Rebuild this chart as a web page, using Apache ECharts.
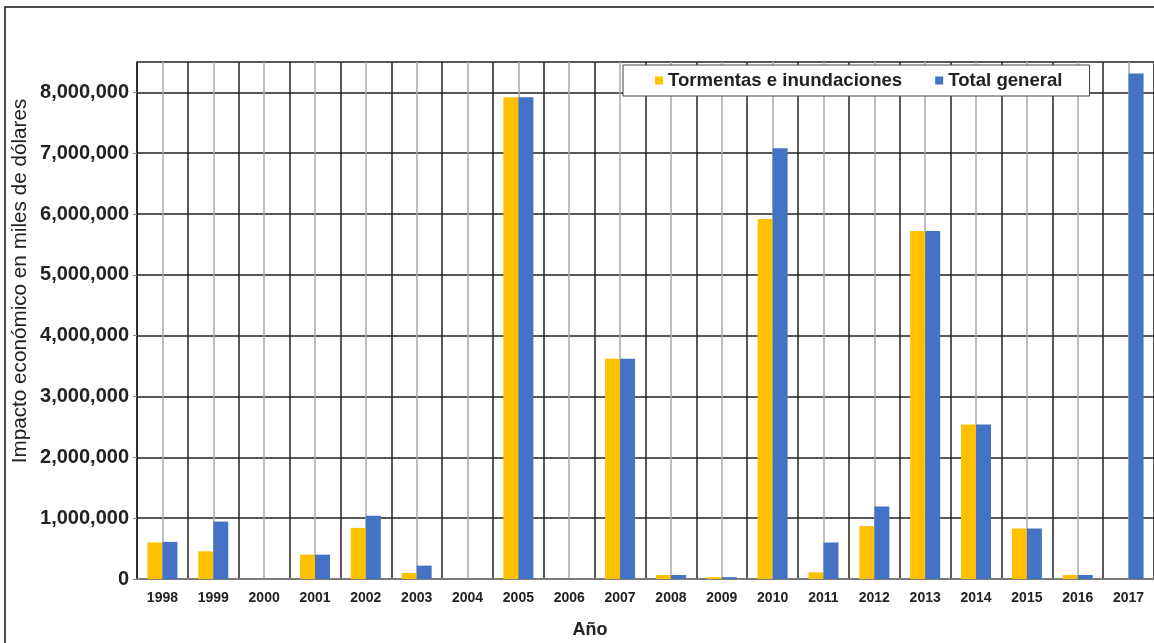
<!DOCTYPE html>
<html>
<head>
<meta charset="utf-8">
<script src="https://cdn.jsdelivr.net/npm/echarts@6/dist/echarts.min.js"></script>
<style>
  html, body { margin: 0; padding: 0; background: #fff; }
  #chart { width: 1154px; height: 643px; }
</style>
</head>
<body>
<div id="chart"></div>
<script>
// Años del periodo analizado
const years = ['1998','1999','2000','2001','2002','2003','2004','2005','2006','2007',
               '2008','2009','2010','2011','2012','2013','2014','2015','2016','2017'];
// Impacto económico (miles de dólares)
const tormentas = [600000, 455000, 0, 400000, 840000, 100000, 0, 7920000, 0, 3620000,
                   66000, 30000, 5920000, 110000, 870000, 5720000, 2540000, 830000, 66000, 0];
const totalGeneral = [610000, 944000, 0, 400000, 1040000, 220000, 0, 7920000, 0, 3620000,
                      66000, 30000, 7080000, 600000, 1190000, 5720000, 2540000, 830000, 66000, 8310000];
const seriesNames = ['Tormentas e inundaciones', 'Total general'];
const yTitle = 'Impacto económico en miles de dólares';
const xTitle = 'Año';

const FONT = '"Liberation Sans", Arial, sans-serif';
const chart = echarts.init(document.getElementById('chart'), null, { renderer: 'canvas' });

chart.setOption({
  backgroundColor: '#fff',
  animation: false,
  textStyle: { fontFamily: FONT },
  grid: { left: 137, right: -1, top: 62, bottom: 64, containLabel: false },
  legend: {
    left: 623, top: 65,
    padding: [6, 27, 6, 32],
    backgroundColor: '#fff',
    borderColor: '#444', borderWidth: 1,
    itemWidth: 8, itemHeight: 8, itemGap: 33,
    icon: 'rect',
    textStyle: { fontFamily: FONT, fontSize: 18.6, fontWeight: 'bold', color: '#222' },
    data: seriesNames
  },
  xAxis: [
    {
      type: 'category',
      data: years,
      axisLine: { show: true, lineStyle: { color: '#888', width: 1.5 } },
      axisTick: { show: false },
      splitLine: { show: false },
      axisLabel: { fontFamily: FONT, fontSize: 14, fontWeight: 'bold', color: '#222', margin: 12, interval: 0 }
    },
    {
      // half-category grid: dark lines between years, light lines at each year's centre
      type: 'value',
      min: 0, max: 40, interval: 1,
      position: 'bottom',
      axisLine: { show: false }, axisTick: { show: false }, axisLabel: { show: false },
      splitLine: { show: true, lineStyle: { color: ['#222', '#aaa'], width: [1.5] } }
    }
  ],
  yAxis: {
    type: 'value',
    min: 0, max: 8500000, interval: 1000000,
    axisLine: { show: true, lineStyle: { color: '#222', width: 1.5 } },
    axisTick: { show: true, length: 4, lineStyle: { color: '#888' } },
    splitLine: { show: true, lineStyle: { color: '#222', width: 1.5 } },
    axisLabel: {
      fontFamily: FONT, fontSize: 20, fontWeight: 'bold', color: '#222', margin: 8,
      showMaxLabel: false,
      formatter: v => v.toLocaleString('en-US')
    }
  },
  series: [
    {
      name: seriesNames[0], type: 'bar', xAxisIndex: 0,
      data: tormentas, barWidth: 15, barGap: '0%',
      itemStyle: { color: '#FFC000' }
    },
    {
      name: seriesNames[1], type: 'bar', xAxisIndex: 0,
      data: totalGeneral, barWidth: 15, barGap: '0%',
      itemStyle: { color: '#4472C4' }
    }
  ],
  graphic: [
    {
      type: 'rect', silent: true, z: 100,
      shape: { x: 5, y: 7, width: 1160, height: 650 },
      style: { fill: 'none', stroke: '#111', lineWidth: 1.5 }
    },
    {
      type: 'text', z: 100,
      x: 20, y: 281, rotation: Math.PI / 2,
      style: { text: yTitle, font: 'normal 20.7px ' + FONT, fill: '#222', align: 'center', verticalAlign: 'middle' }
    },
    {
      type: 'text', z: 100,
      x: 590, y: 630,
      style: { text: xTitle, font: 'bold 18px ' + FONT, fill: '#222', align: 'center', verticalAlign: 'middle' }
    }
  ]
});
</script>
</body>
</html>
